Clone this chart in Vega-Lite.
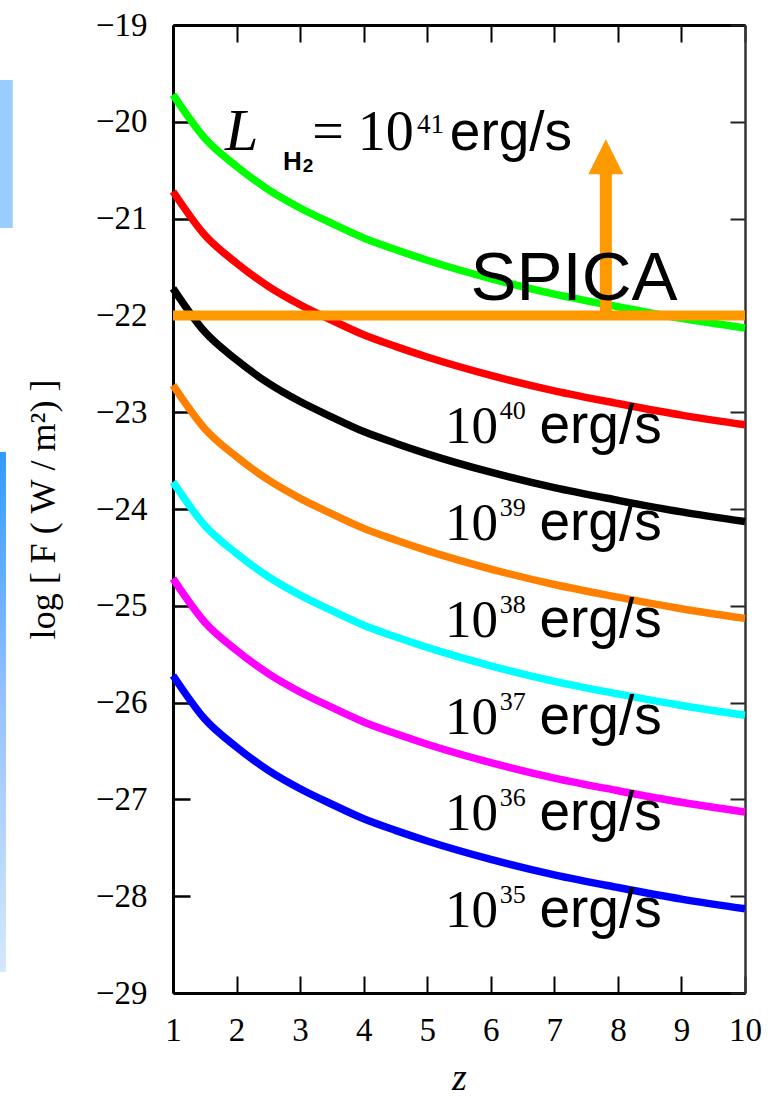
{
  "$schema": "https://vega.github.io/schema/vega-lite/v6.json",
  "width": 572,
  "height": 968,
  "autosize": "none",
  "padding": {"left": 173, "top": 25, "right": 23, "bottom": 106},
  "background": "white",
  "config": {"view": {"stroke": null}, "font": "Liberation Serif"},
  "datasets": {
    "curves": [
      {"z":1,"F":-19.72,"L":"41"},{"z":1.5,"F":-20.17,"L":"41"},{"z":2,"F":-20.46,"L":"41"},{"z":2.5,"F":-20.70,"L":"41"},{"z":3,"F":-20.89,"L":"41"},{"z":3.5,"F":-21.05,"L":"41"},{"z":4,"F":-21.20,"L":"41"},{"z":4.5,"F":-21.32,"L":"41"},{"z":5,"F":-21.43,"L":"41"},{"z":6,"F":-21.62,"L":"41"},{"z":7,"F":-21.78,"L":"41"},{"z":8,"F":-21.91,"L":"41"},{"z":9,"F":-22.03,"L":"41"},{"z":10,"F":-22.13,"L":"41"},
      {"z":1,"F":-20.72,"L":"40"},{"z":1.5,"F":-21.17,"L":"40"},{"z":2,"F":-21.46,"L":"40"},{"z":2.5,"F":-21.70,"L":"40"},{"z":3,"F":-21.89,"L":"40"},{"z":3.5,"F":-22.05,"L":"40"},{"z":4,"F":-22.20,"L":"40"},{"z":4.5,"F":-22.32,"L":"40"},{"z":5,"F":-22.43,"L":"40"},{"z":6,"F":-22.62,"L":"40"},{"z":7,"F":-22.78,"L":"40"},{"z":8,"F":-22.91,"L":"40"},{"z":9,"F":-23.03,"L":"40"},{"z":10,"F":-23.13,"L":"40"},
      {"z":1,"F":-21.72,"L":"39"},{"z":1.5,"F":-22.17,"L":"39"},{"z":2,"F":-22.46,"L":"39"},{"z":2.5,"F":-22.70,"L":"39"},{"z":3,"F":-22.89,"L":"39"},{"z":3.5,"F":-23.05,"L":"39"},{"z":4,"F":-23.20,"L":"39"},{"z":4.5,"F":-23.32,"L":"39"},{"z":5,"F":-23.43,"L":"39"},{"z":6,"F":-23.62,"L":"39"},{"z":7,"F":-23.78,"L":"39"},{"z":8,"F":-23.91,"L":"39"},{"z":9,"F":-24.03,"L":"39"},{"z":10,"F":-24.13,"L":"39"},
      {"z":1,"F":-22.72,"L":"38"},{"z":1.5,"F":-23.17,"L":"38"},{"z":2,"F":-23.46,"L":"38"},{"z":2.5,"F":-23.70,"L":"38"},{"z":3,"F":-23.89,"L":"38"},{"z":3.5,"F":-24.05,"L":"38"},{"z":4,"F":-24.20,"L":"38"},{"z":4.5,"F":-24.32,"L":"38"},{"z":5,"F":-24.43,"L":"38"},{"z":6,"F":-24.62,"L":"38"},{"z":7,"F":-24.78,"L":"38"},{"z":8,"F":-24.91,"L":"38"},{"z":9,"F":-25.03,"L":"38"},{"z":10,"F":-25.13,"L":"38"},
      {"z":1,"F":-23.72,"L":"37"},{"z":1.5,"F":-24.17,"L":"37"},{"z":2,"F":-24.46,"L":"37"},{"z":2.5,"F":-24.70,"L":"37"},{"z":3,"F":-24.89,"L":"37"},{"z":3.5,"F":-25.05,"L":"37"},{"z":4,"F":-25.20,"L":"37"},{"z":4.5,"F":-25.32,"L":"37"},{"z":5,"F":-25.43,"L":"37"},{"z":6,"F":-25.62,"L":"37"},{"z":7,"F":-25.78,"L":"37"},{"z":8,"F":-25.91,"L":"37"},{"z":9,"F":-26.03,"L":"37"},{"z":10,"F":-26.13,"L":"37"},
      {"z":1,"F":-24.72,"L":"36"},{"z":1.5,"F":-25.17,"L":"36"},{"z":2,"F":-25.46,"L":"36"},{"z":2.5,"F":-25.70,"L":"36"},{"z":3,"F":-25.89,"L":"36"},{"z":3.5,"F":-26.05,"L":"36"},{"z":4,"F":-26.20,"L":"36"},{"z":4.5,"F":-26.32,"L":"36"},{"z":5,"F":-26.43,"L":"36"},{"z":6,"F":-26.62,"L":"36"},{"z":7,"F":-26.78,"L":"36"},{"z":8,"F":-26.91,"L":"36"},{"z":9,"F":-27.03,"L":"36"},{"z":10,"F":-27.13,"L":"36"},
      {"z":1,"F":-25.72,"L":"35"},{"z":1.5,"F":-26.17,"L":"35"},{"z":2,"F":-26.46,"L":"35"},{"z":2.5,"F":-26.70,"L":"35"},{"z":3,"F":-26.89,"L":"35"},{"z":3.5,"F":-27.05,"L":"35"},{"z":4,"F":-27.20,"L":"35"},{"z":4.5,"F":-27.32,"L":"35"},{"z":5,"F":-27.43,"L":"35"},{"z":6,"F":-27.62,"L":"35"},{"z":7,"F":-27.78,"L":"35"},{"z":8,"F":-27.91,"L":"35"},{"z":9,"F":-28.03,"L":"35"},{"z":10,"F":-28.13,"L":"35"}
    ],
    "labels": [
      {"exp":"40","F":-23.32},{"exp":"39","F":-24.32},{"exp":"38","F":-25.32},
      {"exp":"37","F":-26.32},{"exp":"36","F":-27.32},{"exp":"35","F":-28.32}
    ],
    "spica": [{"z1":1,"z2":10,"F":-22}],
    "decor1": [{"x1":-1.722,"x2":-1.522,"y1":-19.568,"y2":-21.097}],
    "decor2": [{"x1":-1.722,"x2":-1.628,"y1":-23.411,"y2":-28.783}],
    "one": [{}]
  },
  "layer": [
    {
      "data": {"name": "decor1"},
      "mark": {"type": "rect", "color": "#99ccff"},
      "encoding": {
        "x": {"field": "x1", "type": "quantitative", "axis": null, "scale": {"domain": [1, 10], "nice": false, "zero": false}},
        "x2": {"field": "x2"},
        "y": {"field": "y1", "type": "quantitative", "axis": null, "scale": {"domain": [-29, -19], "nice": false, "zero": false}},
        "y2": {"field": "y2"}
      }
    },
    {
      "data": {"name": "decor2"},
      "mark": {"type": "rect", "color": {"gradient": "linear", "x1": 0, "y1": 0, "x2": 0, "y2": 1, "stops": [{"offset": 0, "color": "#3399ff"}, {"offset": 0.5, "color": "#99c4ff"}, {"offset": 1, "color": "#d4e8ff"}]}},
      "encoding": {
        "x": {"field": "x1", "type": "quantitative", "axis": null},
        "x2": {"field": "x2"},
        "y": {"field": "y1", "type": "quantitative", "axis": null},
        "y2": {"field": "y2"}
      }
    },
    {
      "data": {"name": "curves"},
      "mark": {"type": "line", "strokeWidth": 7.5, "interpolate": "monotone"},
      "encoding": {
        "x": {
          "field": "z", "type": "quantitative",
          "axis": {
            "orient": "bottom", "values": [1,2,3,4,5,6,7,8,9,10], "format": "d",
            "title": "z", "titleFont": "Liberation Serif", "titleFontStyle": "italic", "titleFontWeight": "normal",
            "titleFontSize": 38, "titleColor": "black", "titlePadding": 12,
            "labelFont": "Liberation Serif", "labelFontSize": 33, "labelColor": "black", "labelPadding": 38,
            "labelFlush": false, "labelOverlap": false,
            "tickSize": -17, "tickWidth": 2, "tickColor": "black",
            "domainColor": "black", "domainWidth": 3, "grid": false
          }
        },
        "y": {
          "field": "F", "type": "quantitative",
          "axis": {
            "orient": "left", "values": [-29,-28,-27,-26,-25,-24,-23,-22,-21,-20,-19], "format": "d",
            "title": "log\u00a0[\u00a0F\u00a0(\u00a0W\u00a0/\u00a0m\u00b2)\u00a0]",
            "titleFont": "Liberation Serif", "titleFontWeight": "normal", "titleFontSize": 36, "titleColor": "black", "titlePadding": 33,
            "labelFont": "Liberation Serif", "labelFontSize": 33, "labelColor": "black", "labelPadding": 43,
            "labelFlush": false, "labelOverlap": false,
            "tickSize": -17, "tickWidth": 2.5, "tickColor": "black",
            "domainColor": "black", "domainWidth": 3, "grid": false
          }
        },
        "color": {
          "field": "L", "type": "nominal", "legend": null,
          "scale": {"domain": ["41","40","39","38","37","36","35"], "range": ["#00ff00","#ff0000","#000000","#ff8000","#00ffff","#ff00ff","#0000ff"]}
        }
      }
    },
    {
      "data": {"name": "spica"},
      "mark": {"type": "rule", "color": "#ff9900", "strokeWidth": 10},
      "encoding": {
        "x": {
          "field": "z1", "type": "quantitative",
          "axis": {"orient": "top", "values": [1,2,3,4,5,6,7,8,9,10], "labels": false, "title": null,
                   "tickSize": -17, "tickWidth": 2, "tickColor": "black", "domainColor": "black", "domainWidth": 3, "grid": false}
        },
        "x2": {"field": "z2"},
        "y": {
          "field": "F", "type": "quantitative",
          "axis": {"orient": "right", "values": [-29,-28,-27,-26,-25,-24,-23,-22,-21,-20,-19], "labels": false, "title": null,
                   "tickSize": -15, "tickWidth": 2, "tickColor": "#222222", "domainColor": "#333333", "domainWidth": 2.5, "grid": false}
        }
      }
    },
    {
      "data": {"name": "one"},
      "mark": {"type": "rule", "color": "#ff9900", "strokeWidth": 12},
      "encoding": {
        "x": {"datum": 7.81, "type": "quantitative", "axis": null},
        "y": {"datum": -22, "type": "quantitative", "axis": null},
        "y2": {"datum": -20.5}
      }
    },
    {
      "data": {"name": "one"},
      "mark": {"type": "point", "shape": "M0,-1L1,1L-1,1Z", "size": 1225, "filled": true, "color": "#ff9900", "opacity": 1},
      "encoding": {
        "x": {"datum": 7.81, "type": "quantitative", "axis": null},
        "y": {"datum": -20.36, "type": "quantitative", "axis": null}
      }
    },
    {
      "data": {"name": "labels"},
      "mark": {"type": "text", "text": "10", "align": "left", "baseline": "alphabetic", "font": "Liberation Serif", "fontSize": 53, "color": "black"},
      "encoding": {
        "x": {"datum": 5.28, "type": "quantitative", "axis": null},
        "y": {"field": "F", "type": "quantitative", "axis": null}
      }
    },
    {
      "data": {"name": "labels"},
      "mark": {"type": "text", "align": "left", "baseline": "alphabetic", "font": "Liberation Serif", "fontSize": 26, "dy": -24, "color": "black"},
      "encoding": {
        "x": {"datum": 6.14, "type": "quantitative", "axis": null},
        "y": {"field": "F", "type": "quantitative", "axis": null},
        "text": {"field": "exp"}
      }
    },
    {
      "data": {"name": "labels"},
      "mark": {"type": "text", "text": "erg/s", "align": "right", "baseline": "alphabetic", "font": "Liberation Sans", "fontSize": 55, "color": "black"},
      "encoding": {
        "x": {"datum": 8.69, "type": "quantitative", "axis": null},
        "y": {"field": "F", "type": "quantitative", "axis": null}
      }
    },
    {
      "data": {"name": "one"},
      "mark": {"type": "text", "text": "L", "align": "left", "baseline": "alphabetic", "font": "Liberation Serif", "fontStyle": "italic", "fontSize": 60, "color": "black"},
      "encoding": {
        "x": {"datum": 1.82, "type": "quantitative", "axis": null},
        "y": {"datum": -20.29, "type": "quantitative", "axis": null}
      }
    },
    {
      "data": {"name": "one"},
      "mark": {"type": "text", "text": "H", "align": "left", "baseline": "alphabetic", "font": "Liberation Sans", "fontWeight": "bold", "fontSize": 26, "color": "black"},
      "encoding": {
        "x": {"datum": 2.73, "type": "quantitative", "axis": null},
        "y": {"datum": -20.50, "type": "quantitative", "axis": null}
      }
    },
    {
      "data": {"name": "one"},
      "mark": {"type": "text", "text": "2", "align": "left", "baseline": "alphabetic", "font": "Liberation Sans", "fontWeight": "bold", "fontSize": 19, "color": "black"},
      "encoding": {
        "x": {"datum": 3.04, "type": "quantitative", "axis": null},
        "y": {"datum": -20.52, "type": "quantitative", "axis": null}
      }
    },
    {
      "data": {"name": "one"},
      "mark": {"type": "text", "text": "= 10", "align": "left", "baseline": "alphabetic", "font": "Liberation Serif", "fontSize": 56, "color": "black"},
      "encoding": {
        "x": {"datum": 3.19, "type": "quantitative", "axis": null},
        "y": {"datum": -20.29, "type": "quantitative", "axis": null}
      }
    },
    {
      "data": {"name": "one"},
      "mark": {"type": "text", "text": "41", "align": "left", "baseline": "alphabetic", "font": "Liberation Serif", "fontSize": 27, "color": "black"},
      "encoding": {
        "x": {"datum": 4.84, "type": "quantitative", "axis": null},
        "y": {"datum": -20.12, "type": "quantitative", "axis": null}
      }
    },
    {
      "data": {"name": "one"},
      "mark": {"type": "text", "text": "erg/s", "align": "right", "baseline": "alphabetic", "font": "Liberation Sans", "fontSize": 55, "color": "black"},
      "encoding": {
        "x": {"datum": 7.28, "type": "quantitative", "axis": null},
        "y": {"datum": -20.29, "type": "quantitative", "axis": null}
      }
    },
    {
      "data": {"name": "one"},
      "mark": {"type": "text", "text": "SPICA", "align": "center", "baseline": "alphabetic", "font": "Liberation Sans", "fontSize": 69, "color": "black"},
      "encoding": {
        "x": {"datum": 7.31, "type": "quantitative", "axis": null},
        "y": {"datum": -21.84, "type": "quantitative", "axis": null}
      }
    }
  ],
  "resolve": {"axis": {"x": "independent", "y": "independent"}}
}
